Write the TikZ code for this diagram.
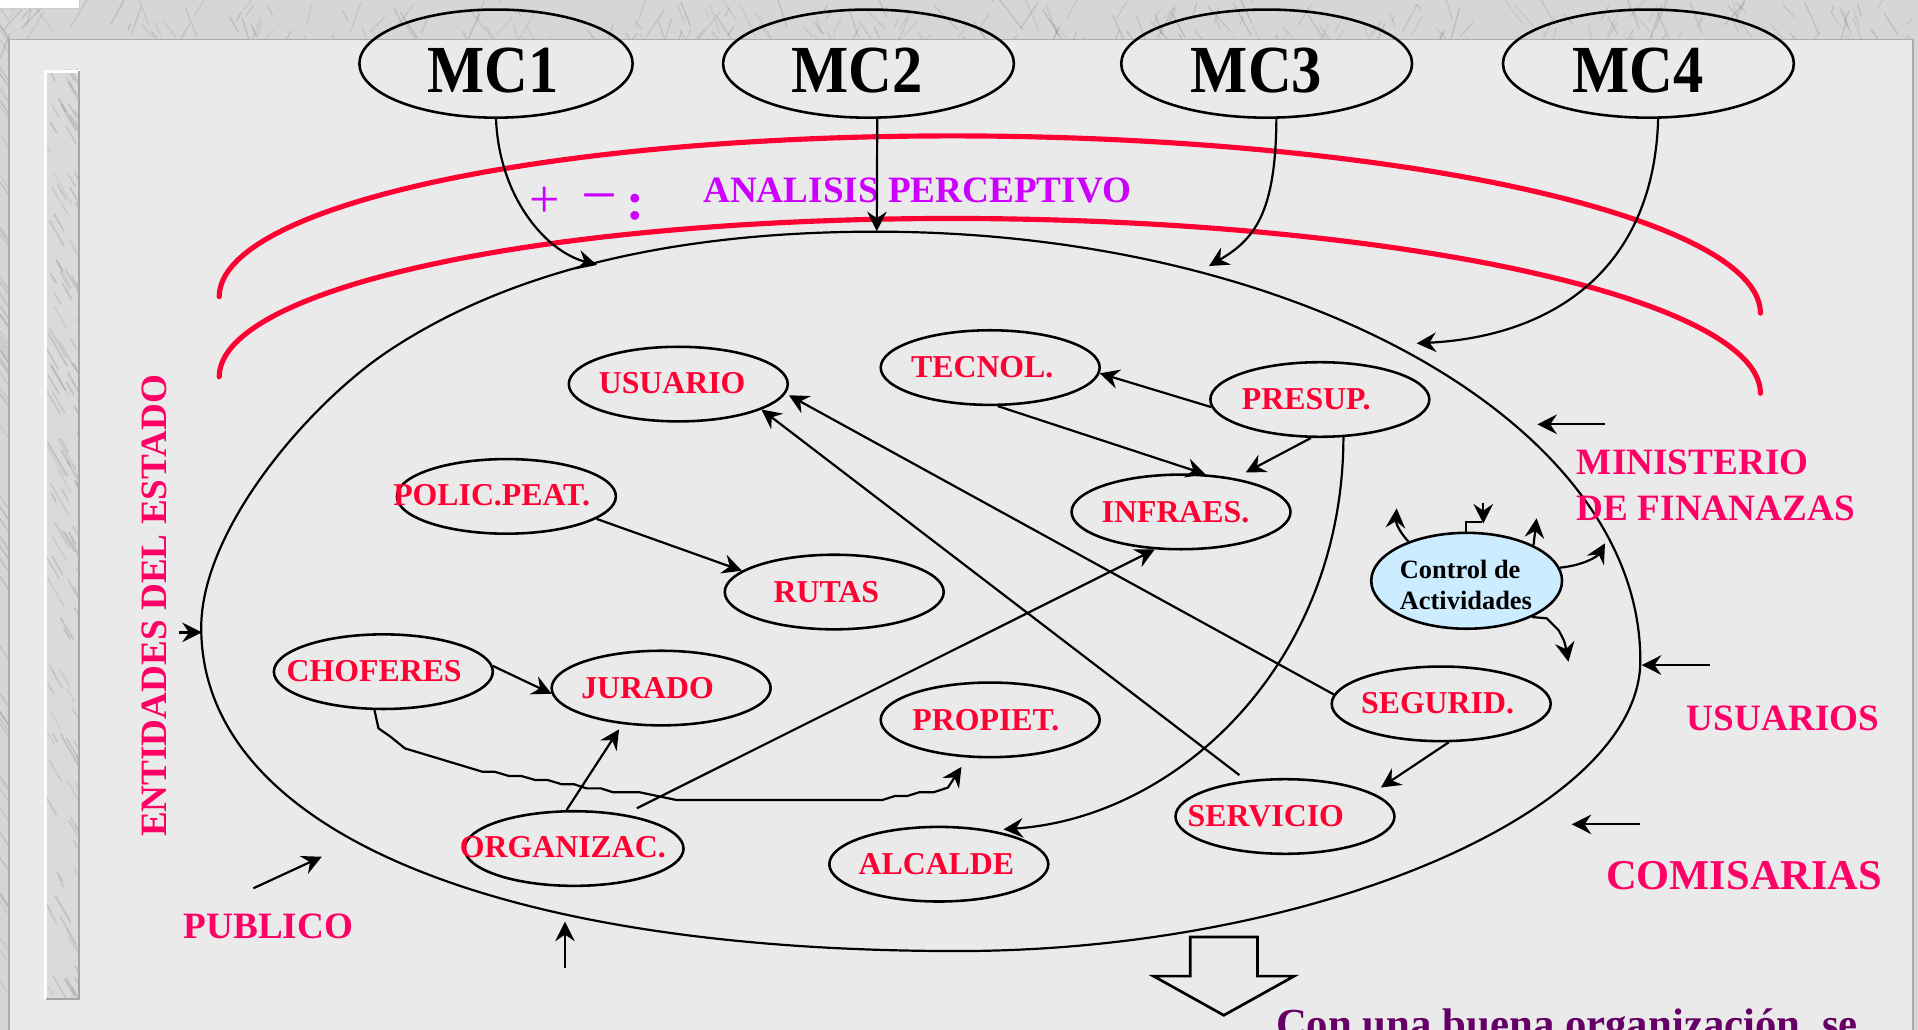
\documentclass[tikz,border=0pt]{standalone}
\usepackage{fontspec}
\setmainfont{Liberation Serif}
\usepackage{graphicx}
\usetikzlibrary{arrows.meta,shapes.geometric}

\definecolor{panelgray}{HTML}{EAEAEA}
\definecolor{marblegray}{HTML}{D6D6D6}
\definecolor{barmarble}{HTML}{DADADA}
\definecolor{noderose}{HTML}{FF0033}
\definecolor{tagrose}{HTML}{FF0066}
\definecolor{percviolet}{HTML}{CC00FF}
\definecolor{arcrose}{HTML}{FF0033}
\definecolor{deepplum}{HTML}{660066}
\definecolor{ctrlblue}{HTML}{CCECFF}

\begin{document}
\begin{tikzpicture}[x=1pt,y=-1pt,
  >={Stealth[length=16pt,width=16pt,inset=5.5pt]},
  ell/.style={draw,ellipse,line width=2.1pt,minimum width=179pt,minimum height=61pt,inner sep=0pt},
  mcell/.style={draw,ellipse,line width=2.1pt,minimum width=237.8pt,minimum height=88.4pt,inner sep=0pt},
  mctext/.style={inner sep=0pt,font=\fontsize{55}{55}\selectfont\bfseries},
  lab/.style={inner sep=0pt,text=noderose,font=\fontsize{26}{26}\selectfont\bfseries},
  tag/.style={inner sep=0pt,text=tagrose,font=\fontsize{30.4}{30.4}\selectfont\bfseries},
  conn/.style={->,line width=1.8pt},
  plain/.style={line width=1.8pt},
  redarc/.style={draw=arcrose,line width=4.2pt,line cap=round},
]
\useasboundingbox (0,0) rectangle (1568,842);

% marble frame
\fill[marblegray] (0,0) rectangle (1568,842);
\begin{scope}
  \clip (0,0) rectangle (1568,32.2) (0,0) rectangle (7.5,842) (1564,0) rectangle (1568,842);
  \pgfmathsetseed{2718}
  \foreach \k in {1,...,260}{
    \pgfmathsetmacro\xa{rnd*1568}
    \pgfmathsetmacro\ya{rnd*40-4}
    \pgfmathsetmacro\an{(rnd<0.5?60:120)+30*(rnd-0.5)}
    \pgfmathsetmacro\le{6+rnd*26}
    \pgfmathtruncatemacro\sh{45+rnd*35}
    \draw[black!\sh,opacity=0.16,line width=1.1pt] (\xa,\ya) -- ++(\an:\le);
  }
  \foreach \k in {1,...,60}{
    \pgfmathsetmacro\ya{rnd*842}
    \pgfmathtruncatemacro\sh{45+rnd*35}
    \draw[black!\sh,opacity=0.16,line width=1.1pt] (0,\ya) -- ++(8,12);
  }
\end{scope}

% light panel
\fill[panelgray] (7.5,32.2) rectangle (1564,842);
\draw[gray!65,line width=1.2pt] (7.5,842) -- (7.5,32.2) -- (1564,32.2) -- (1564,842);
\filldraw[fill=white,draw=gray!40,line width=0.8pt] (-1,-1) rectangle (65,6.8);

% left marble bar
\fill[barmarble] (36,57.2) rectangle (65.4,817.5);
\begin{scope}
  \clip (36,57.2) rectangle (65.4,817.5);
  \pgfmathsetseed{1414}
  \foreach \k in {1,...,140}{
    \pgfmathsetmacro\ya{rnd*800+40}
    \pgfmathsetmacro\xa{36+rnd*30}
    \pgfmathsetmacro\le{8+rnd*24}
    \pgfmathtruncatemacro\sh{40+rnd*40}
    \draw[black!\sh,opacity=0.18,line width=1.3pt] (\xa,\ya) -- ++(60:\le);
  }
\end{scope}
\draw[white,line width=2.4pt] (37.2,817.5) -- (37.2,58.4) -- (65.4,58.4);
\draw[gray!70,line width=2pt] (64.4,58.4) -- (64.4,816.5) -- (37.2,816.5);

% perception arcs
\draw[redarc] plot[domain=180:360,samples=100] ({809.2+630*cos(\x)},{249.25+138*sin(\x)+6.75*cos(\x)});
\draw[redarc] plot[domain=180:360,samples=100] ({809.2+630*cos(\x)},{314.75+136*sin(\x)+6.75*cos(\x)});

% system boundary
\draw[line width=1.8pt] (716,189.4)
  .. controls (1061,189.4) and (1341,346.5) .. (1341,540)
  .. controls (1341,663.5) and (1073,777.5) .. (783,777.5)
  .. controls (399.5,777.5) and (164.5,677) .. (164.5,513)
  .. controls (164.5,433) and (252.1,330.2) .. (318.8,286.1)
  .. controls (432.2,211.2) and (580,189.4) .. cycle;

\coordinate (sysMC1) at (488,216.6);
\coordinate (sysMC2) at (716.8,189);
\coordinate (sysMC3) at (988.4,217.5);
\coordinate (sysMC4) at (1158.1,280.7);
\coordinate (sysL) at (165,517);
\coordinate (sysPub) at (263,700.4);
\coordinate (sysBot) at (461.9,753.5);
\coordinate (sysMin) at (1256.8,346.9);
\coordinate (sysUsu) at (1342.1,543.7);
\coordinate (sysCom) at (1284.9,673.9);
\coordinate (entTail) at (146,517);
\coordinate (pubTail) at (207.1,726.2);
\coordinate (botTail) at (461.9,791.6);
\coordinate (minTail) at (1312.1,346.9);
\coordinate (usuTail) at (1398,543.7);
\coordinate (comTail) at (1340.7,673.9);

% models
\node[mcell,minimum width=223.4pt] (mc1) at (405.5,52) {};
\node[mcell] (mc2) at (710,52) {};
\node[mcell] (mc3) at (1035.5,52) {};
\node[mcell] (mc4) at (1347.6,52) {};
\node[mctext] (mc1t) at (402.8,57.6) {\scalebox{0.9}[1]{MC1}};
\node[mctext] (mc2t) at (700.9,57.6) {\scalebox{0.9}[1]{MC2}};
\node[mctext] (mc3t) at (1027.2,57.6) {\scalebox{0.9}[1]{MC3}};
\node[mctext] (mc4t) at (1339.4,57.6) {\scalebox{0.9}[1]{MC4}};

% actors
\node[ell] (usuario) at (554.5,314) {};
\node[ell] (tecnol) at (809.5,300.5) {};
\node[ell] (presup) at (1079,326.6) {};
\node[ell] (polic) at (414,405.8) {};
\node[ell] (infraes) at (965.5,418.5) {};
\node[ell] (rutas) at (682,484) {};
\node[ell] (chof) at (313.4,549.1) {};
\node[ell] (jurado) at (540.5,562.5) {};
\node[ell] (propiet) at (809.5,588.5) {};
\node[ell] (segurid) at (1178.2,575.4) {};
\node[ell] (servicio) at (1050.5,667.5) {};
\node[ell] (organiz) at (469.3,693.7) {};
\node[ell] (alcalde) at (767.5,706.5) {};
\node[ell,fill=ctrlblue,minimum width=156pt,minimum height=78.4pt] (ctrl) at (1199,474.8) {};

\node[lab] (usuarioT) at (549.5,313.6) {USUARIO};
\node[lab] (tecnolT) at (803,300.5) {TECNOL.};
\node[lab] (presupT) at (1067.9,326.4) {PRESUP.};
\node[lab] (policT) at (401.9,405.1) {POLIC.PEAT.};
\node[lab] (infraesT) at (961,418.5) {INFRAES.};
\node[lab] (rutasT) at (675.6,483.7) {RUTAS};
\node[lab] (chofT) at (305.9,548.7) {CHOFERES};
\node[lab] (juradoT) at (529.4,562.5) {JURADO};
\node[lab] (propietT) at (806,588.5) {PROPIET.};
\node[lab] (seguridT) at (1175.2,575) {SEGURID.};
\node[lab] (servicioT) at (1034.8,667) {SERVICIO};
\node[lab] (organizT) at (460.1,692.9) {ORGANIZAC.};
\node[lab] (alcaldeT) at (765.5,706.5) {ALCALDE};
\node[inner sep=0pt,align=left,font=\fontsize{21.6}{25.4}\selectfont\bfseries] (ctrlT) at (1198.4,478.5) {Control de\\Actividades};

% side labels
\node[tag,rotate=90] (entidades) at (126.5,495.3) {ENTIDADES DEL ESTADO};
\node[tag,anchor=west] (publico) at (150,757) {PUBLICO};
\node[tag,anchor=west] (ministerio) at (1289,378) {MINISTERIO};
\node[tag,anchor=west] (finanzas) at (1289,415.5) {DE FINANAZAS};
\node[tag,anchor=west] (usuarios) at (1378.9,587.5) {USUARIOS};
\node[tag,anchor=west,font=\fontsize{34.7}{34.7}\selectfont\bfseries] (comisarias) at (1312.9,716) {COMISARIAS};
\node[tag,anchor=west,text=percviolet] (analisis) at (574.7,155.7) {ANALISIS PERCEPTIVO};
\node[inner sep=0pt,text=percviolet,font=\fontsize{44}{44}\selectfont] (plus) at (444.9,165.3) {+};
\node[inner sep=0pt,anchor=base,text=percviolet,font=\fontsize{52}{52}\selectfont] (minus) at (490.2,176.7) {−};
\node[inner sep=0pt,text=percviolet,font=\fontsize{44}{44}\selectfont\bfseries] (colon) at (519.1,169.3) {:};
\node[inner sep=0pt,anchor=base west,text=deepplum,font=\fontsize{35}{35}\selectfont\bfseries] (conclusion) at (1043,849) {Con una buena organización, se};

% model inputs
\draw[conn] (mc1.south) .. controls (408,160) and (445,205) .. (sysMC1);
\draw[conn] (mc2.-81) -- (sysMC2);
\draw[conn] (mc3.-80.3) .. controls (1043,175) and (1025,196) .. (sysMC3);
\draw[conn] (mc4.-80.5) .. controls (1352,220) and (1270,275) .. (sysMC4);

% relations between actors
\draw[conn] (presup.184.4) -- (tecnol.-3.8);
\draw[conn] (tecnol.-79) -- (infraes.57.4);
\draw[conn,shorten >=10pt] (presup.-103.4) -- (infraes.32.3);
\draw[conn,shorten >=10pt] (presup.-58.1) .. controls (1098,540) and (965,668) .. (alcalde.33.3);
\draw[conn,shorten >=3pt] (segurid.175.9) -- (usuario.-5);
\draw[conn,shorten <=7pt] (servicio.137.2) -- (usuario.-17.1);
\draw[conn,shorten <=11pt] (organiz.34) -- (infraes.-125.6);
\draw[conn,shorten >=5pt] (organiz.101.9) -- (jurado.-137.6);
\draw[conn] (chof.3.9) -- (jurado.183.5);
\draw[conn] (polic.-14.2) -- (rutas.167.1);
\draw[conn,shorten >=8pt] (segurid.-79) -- (servicio.15);
\draw[conn,shorten >=9pt] (chof.-103) -- (309.4,595.4) -- (319.3,602.3) -- (331,611.8) -- (394.4,630.9)
  -- (404.4,630.9) -- (416.1,634.4) -- (426.1,634.4) -- (437.8,637.7) -- (447.8,637.7)
  -- (459.5,641.2) -- (469.5,641.2) -- (479.5,644.5) -- (491.2,644.5) -- (501.2,647.7)
  -- (522.9,647.7) -- (552.9,654) -- (721.4,654) -- (731.4,650.8) -- (741.5,650.8)
  -- (751.5,647.7) -- (763.2,647.7) -- (774.9,643.9) -- (propiet.-121.4);

% outputs of the activity control
\coordinate (cUL) at (1141.8,415.6);
\coordinate (cStep) at (1211.3,426.5);
\coordinate (cFlag) at (1212.6,411);
\coordinate (cFlagTip) at (1212.6,428);
\coordinate (cUR) at (1256.2,423.7);
\coordinate (cR) at (1312.1,444.2);
\coordinate (cDR) at (1282.2,541);
\draw[conn] (ctrl.146.5) .. controls (1145,436) and (1141,428) .. (cUL);
\draw[plain] (ctrl.91) |- (cStep);
\draw[conn] (cFlag) -- (cFlagTip);
\draw[conn] (ctrl.28.7) -- (cUR);
\draw[conn] (ctrl.8.4) .. controls (1295,462) and (1306,455) .. (cR);
\draw[conn] (ctrl.-29.4) -- (1264.5,505.5) -- (1274,515) .. controls (1279,524) .. (cDR);

% external influences
\draw[conn] (entTail) -- (sysL);
\draw[conn] (pubTail) -- (sysPub);
\draw[conn] (botTail) -- (sysBot);
\draw[conn] (minTail) -- (sysMin);
\draw[conn] (usuTail) -- (sysUsu);
\draw[conn] (comTail) -- (sysCom);

% result arrow
\filldraw[fill=panelgray,draw=black,line width=2.2pt,line join=miter]
  (973,766) -- (1028,766) -- (1028,798) -- (1058,798) -- (1000.5,830) -- (943,798) -- (973,798) -- cycle;
\end{tikzpicture}
\end{document}
